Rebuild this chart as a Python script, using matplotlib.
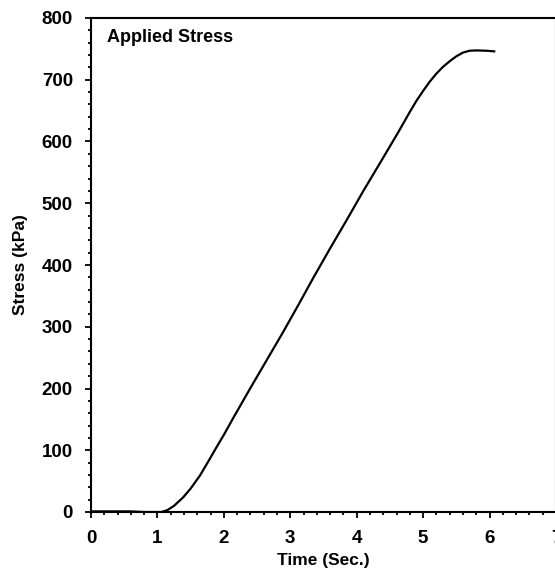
import matplotlib
matplotlib.use("Agg")
import matplotlib.pyplot as plt
from matplotlib.ticker import MultipleLocator

plt.rcParams['font.family'] = ['Liberation Sans', 'DejaVu Sans']
plt.rcParams['font.weight'] = 'bold'

time_s = [0.0, 0.3, 0.6, 0.8, 1.0, 1.06, 1.15, 1.25, 1.39, 1.5, 1.64, 1.75, 1.89, 2.0,
          2.14, 2.39, 2.64, 2.89, 3.12, 3.34, 3.6, 3.85, 4.1, 4.35, 4.62, 4.8, 4.9,
          5.0, 5.1, 5.2, 5.3, 5.4, 5.5, 5.6, 5.7, 5.8, 5.95, 6.07]
stress_kpa = [1, 1, 1, 0, 0, 0, 3, 10, 24, 38, 59, 79, 105, 125,
              152, 199, 245, 291, 335, 378, 427, 473, 520, 565, 614, 648, 666,
              682, 697, 710, 721, 730, 738, 744, 747, 747.5, 747, 746]

fig = plt.figure(figsize=(5.55, 5.72), dpi=100)
ax = fig.add_axes([91/555, 1-512/572, 465/555, 494/572])
ax.plot(time_s, stress_kpa, color='black', lw=1.6)

ax.set_xlim(0, 7)
ax.set_ylim(0, 800)
ax.xaxis.set_major_locator(MultipleLocator(1))
ax.xaxis.set_minor_locator(MultipleLocator(0.2))
ax.yaxis.set_major_locator(MultipleLocator(100))
ax.yaxis.set_minor_locator(MultipleLocator(20))
ax.tick_params(which='major', direction='out', length=4.5, width=1.3, labelsize=13.5, pad=8.5)
ax.tick_params(which='minor', direction='out', length=2.5, width=1.3)
for s in ax.spines.values():
    s.set_linewidth(1.5)
for lab in ax.get_xticklabels() + ax.get_yticklabels():
    lab.set_fontweight('bold')

ax.set_xlabel('Time (Sec.)', fontsize=12.5, fontweight='bold', labelpad=4)
ax.set_ylabel('Stress (kPa)', fontsize=12.5, fontweight='bold', labelpad=10)
ax.text(0.034, 0.96, 'Applied Stress', transform=ax.transAxes, fontsize=13,
        fontweight='bold', va='center', ha='left')

fig.savefig('out.png', dpi=100)
